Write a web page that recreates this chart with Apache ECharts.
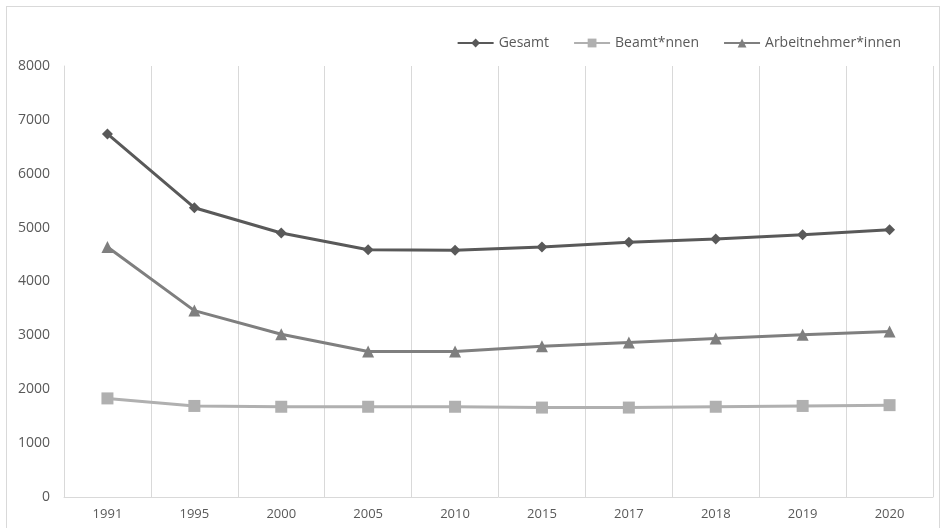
<!DOCTYPE html>
<html>
<head>
<meta charset="utf-8">
<script src="https://cdn.jsdelivr.net/npm/echarts@6/dist/echarts.min.js"></script>
<style>
  html, body { margin: 0; padding: 0; background: #fff; }
  .frame {
    position: absolute;
    left: 6px;
    top: 6px;
    width: 934px;
    height: 530px;
    border: 1px solid #d9d9d9;
    box-sizing: border-box;
  }
  #chart { position: absolute; left: 0; top: 0; width: 942px; height: 528px; }
</style>
</head>
<body>
<div class="frame"></div>
<div id="chart"></div>
<script>
// Jahre
const years = ['1991', '1995', '2000', '2005', '2010', '2015', '2017', '2018', '2019', '2020']
// Werte je Gruppe
const gesamt = [6740, 5370, 4900, 4590, 4580, 4640, 4730, 4790, 4870, 4960]
const beamte = [1830, 1690, 1675, 1675, 1675, 1660, 1660, 1675, 1690, 1705]
const arbeitnehmer = [4640, 3460, 3020, 2700, 2700, 2800, 2870, 2940, 3010, 3070]

const textColor = '#595959'
const gridColor = '#d9d9d9'

function lineSeries(name, data, color, symbol, size) {
  return {
    name: name,
    type: 'line',
    data: data,
    symbol: symbol,
    symbolSize: size,
    color: color,
    lineStyle: { color: color, width: 3 },
    itemStyle: { color: color },
    emphasis: { disabled: true }
  }
}

const chart = echarts.init(document.getElementById('chart'), null, { renderer: 'canvas' })
chart.setOption({
  animation: false,
  grid: { left: 64, right: 9, top: 66, bottom: 31, containLabel: false },
  legend: {
    top: 31,
    right: 36,
    itemWidth: 36,
    itemHeight: 11,
    itemGap: 24,
    textStyle: { color: textColor, fontSize: 14, fontFamily: 'Open Sans' },
    data: ['Gesamt', 'Beamt*nnen', 'Arbeitnehmer*innen']
  },
  xAxis: {
    type: 'category',
    data: years,
    boundaryGap: true,
    axisLine: { lineStyle: { color: gridColor, width: 1 } },
    axisTick: { show: false },
    splitLine: { show: true, lineStyle: { color: gridColor, width: 1 } },
    axisLabel: { color: textColor, fontSize: 13, margin: 11, fontFamily: 'Open Sans' }
  },
  yAxis: {
    type: 'value',
    min: 0,
    max: 8000,
    interval: 1000,
    axisLine: { show: true, lineStyle: { color: gridColor, width: 1 } },
    axisTick: { show: false },
    splitLine: { show: false },
    axisLabel: {
      color: textColor,
      fontSize: 14,
      margin: 14,
      fontFamily: 'Open Sans',
      formatter: v => String(v)
    }
  },
  series: [
    lineSeries('Gesamt', gesamt, '#595959', 'diamond', 11),
    lineSeries('Beamt*nnen', beamte, '#b0b0b0', 'rect', 12),
    lineSeries('Arbeitnehmer*innen', arbeitnehmer, '#7f7f7f', 'triangle', 12)
  ]
})
</script>
</body>
</html>
